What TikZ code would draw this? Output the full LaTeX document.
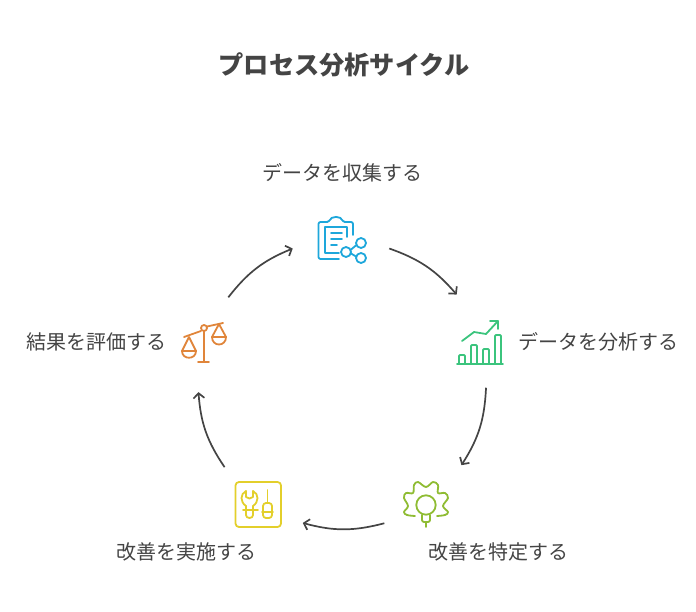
\documentclass[tikz,border=0pt]{standalone}
\usepackage{fontspec}
\setmainfont{Noto Sans CJK JP}
\usetikzlibrary{arrows.meta}
\definecolor{inkgray}{HTML}{444444}
\definecolor{collectblue}{HTML}{1EA7DB}
\definecolor{analyzegreen}{HTML}{3BC47D}
\definecolor{improveolive}{HTML}{8FBC33}
\definecolor{implementyellow}{HTML}{E3CF2B}
\definecolor{evaluateorange}{HTML}{E0853A}

\begin{document}
\begin{tikzpicture}[
	x=1pt,y=-1pt,
	spot/.style={
		circle,
		inner sep=0pt,
		outer sep=0pt,
		minimum size=98pt,
		},
	lbl/.style={
		text=inkgray,
		font=\fontsize{20pt}{22pt}\selectfont,
		text height=15pt,
		text depth=3pt,
		inner sep=0pt,
		},
	flow/.style={
		->,
		>={Straight Barb[length=5pt,width=11pt,line width=1.7pt]},
		draw=inkgray,
		line width=1.7pt,
		},
	ico/.style={
		line width=1.8pt,
		line cap=round,
		line join=round,
		}]

	\useasboundingbox (0,0) rectangle (696,612);

	\node(title)[text=inkgray,inner sep=0pt,font=\fontsize{25.2pt}{28pt}\selectfont\bfseries] at (344,65) {プロセス分析サイクル};

	\node(collect)[spot] at (341,240) {};
	\node(analyze)[spot] at (475,340) {};
	\node(improve)[spot] at (428,501) {};
	\node(implement)[spot] at (258,503) {};
	\node(evaluate)[spot,minimum size=100pt] at (208,343) {};

	\node(collecttext)[lbl] at (342,175) {データを収集する};
	\node(analyzetext)[lbl] at (598,343) {データを分析する};
	\node(improvetext)[lbl] at (498,553) {改善を特定する};
	\node(implementtext)[lbl] at (186,553) {改善を実施する};
	\node(evaluatetext)[lbl] at (96,343) {結果を評価する};

	\path (collect.-10.6) edge[flow,bend left=15] (analyze.112.9);
	\path (analyze.-77.1) edge[flow,bend left=15] (improve.47.5);
	\path (improve.-153.4) edge[flow,bend left=15] (implement.-24.5);
	\path (implement.133.4) edge[flow,bend left=15] (evaluate.-101.8);
	\path (evaluate.66.5) edge[flow,bend left=15] (collect.190.4);

	% clipboard
	\begin{scope}[ico,draw=collectblue]
		\draw[rounded corners=2pt] (339,259) -- (318.5,259) -- (318.5,222) -- (327,222);
		\draw (327,222) -- (329,221) .. controls (331,215.5) and (341,215.5) .. (343,221) -- (345,222);
		\draw[rounded corners=2pt] (345,222) -- (353,222) -- (353,235);
		\draw (339,253) -- (325,253) -- (325,227) -- (347,227) -- (347,237);
		\draw (331,233) -- (342,233);
		\draw (331,239) -- (342,239);
		\draw (331,245) -- (337,245);
		\draw (346,252) circle (5);
		\draw (361,243) circle (5);
		\draw (361,258) circle (5);
		\draw (350.5,250) -- (356.5,245);
		\draw (351,253.5) -- (356,256.5);
	\end{scope}

	% chart
	\begin{scope}[ico,draw=analyzegreen]
		\draw (457,364) -- (503,364);
		\draw[rounded corners=1pt] (459,364) -- (459,355) -- (465,355) -- (465,364);
		\draw[rounded corners=1pt] (471,364) -- (471,345) -- (477,345) -- (477,364);
		\draw[rounded corners=1pt] (483,364) -- (483,349) -- (489,349) -- (489,364);
		\draw[rounded corners=1pt] (495,364) -- (495,335) -- (501,335) -- (501,364);
		\draw (462,341) -- (474,332) -- (486,334) -- (498,321);
		\draw (490,321) -- (498,321) -- (498,329);
	\end{scope}

	% gear with bulb
	\begin{scope}[ico,draw=improveolive]
		\draw plot[smooth,tension=0.6] coordinates {(415,516) (407,515) (404,512) (408,506) (404,498) (406,493) (413,493) (414,485) (418,482) (426,487) (433,482) (438,485) (438,493) (445,493) (448,498) (443,506) (448,512) (445,515) (437,516)};
		\draw (426,505) circle (9.7);
		\draw[rounded corners=2pt] (422,515) -- (422,522) -- (430,522) -- (430,515);
		\draw (426,522) -- (426,527);
	\end{scope}

	% tools
	\begin{scope}[ico,draw=implementyellow]
		\draw[rounded corners=3.5pt] (235.5,482) rectangle (281,527);
		\draw (246,491) -- (246,497) .. controls (248,499) and (251,499) .. (253,497) -- (253,491);
		\draw (246,491) .. controls (240,494) and (240,502) .. (246,506);
		\draw (253,491) .. controls (259,494) and (259,502) .. (253,506);
		\draw (246,506) -- (246,515) .. controls (246,519) and (253,519) .. (253,515) -- (253,506);
		\draw (243,510) -- (258,510);
		\draw (267.5,490) -- (267.5,503);
		\draw[rounded corners=3pt] (263,518) rectangle (272,503);
		\draw (262,512) -- (273,512);
	\end{scope}

	% scales
	\begin{scope}[ico,draw=evaluateorange]
		\draw (184,337) -- (201,331);
		\draw (207,326.5) -- (223,323);
		\draw (204,328) circle (3);
		\draw (204,331) -- (204,362);
		\draw (198,362) -- (209,362);
		\draw (182,351) -- (189,337) -- (196,351);
		\draw (182,351) -- (196,351) .. controls (196,360) and (182,360) .. (182,351);
		\draw (212,337) -- (219,324) -- (226,337);
		\draw (212,337) -- (226,337) .. controls (226,347) and (212,347) .. (212,337);
	\end{scope}

\end{tikzpicture}
\end{document}
